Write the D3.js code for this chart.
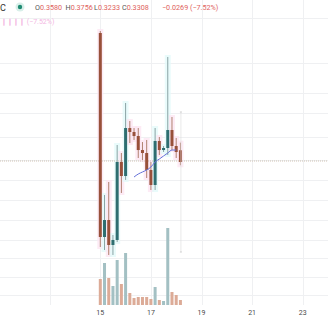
<!DOCTYPE html>
<html lang="en">
<head>
  <meta charset="UTF-8" />
  <title>Candles 4h</title>
  <script src="https://d3js.org/d3.v7.min.js"></script>
  <style>
    body {
      margin: 0;
      padding: 0;
      background: #fff;
      overflow: hidden;
      font-family: Roboto, "Noto Sans", Arial, sans-serif;
    }
  </style>
</head>
<body>
  <div id="chart"></div>
  <script>
    // 4h candles starting on the 15th
    const opens  = [0.6292, 0.1573, 0.1966, 0.1388, 0.1504, 0.3308, 0.2984, 0.4094, 0.4002, 0.3909,
                    0.3585, 0.3516, 0.3123, 0.2776, 0.3794, 0.3585, 0.3632, 0.4048, 0.3678, 0.3580];
    const highs  = [0.6338, 0.2545, 0.2845, 0.1619, 0.3701, 0.3516, 0.4673, 0.4256, 0.4094, 0.4094,
                    0.3770, 0.3817, 0.3308, 0.4094, 0.3886, 0.3678, 0.5737, 0.4349, 0.3863, 0.3756];
    const lows   = [0.1342, 0.1272, 0.1157, 0.1157, 0.1457, 0.2591, 0.2892, 0.3747, 0.3817, 0.3400,
                    0.3354, 0.2938, 0.2660, 0.2660, 0.3470, 0.3539, 0.3470, 0.3585, 0.3400, 0.3233];
    const closes = [0.1573, 0.1966, 0.1388, 0.1504, 0.3308, 0.2984, 0.4094, 0.4002, 0.3909, 0.3585,
                    0.3516, 0.3123, 0.2776, 0.3794, 0.3585, 0.3632, 0.4048, 0.3678, 0.3539, 0.3308];
    const volumes = [2.6, 4.2, 2.7, 1.9, 4.5, 2.1, 5.2, 1.2, 0.7, 0.8,
                     0.8, 0.8, 0.6, 1.8, 0.5, 0.4, 7.7, 1.3, 1.0, 0.5];
    const maLine = [null, null, null, null, null, null, null, null, 0.2961, 0.3030,
                    0.3077, 0.3123, 0.3192, 0.3308, 0.3377, 0.3447, 0.3516, 0.3585, 0.3585, null];
    const markerRange = [0.4465, 0.1226]; // thin grey marker on the last bar
    const gridPrices = [0.664, 0.560, 0.490, 0.444, 0.389, 0.335, 0.289, 0.243, 0.197, 0.150, 0.109, 0.065, 0.023];
    const gridDays = [13, 15, 17, 19, 21, 23];
    const tickDays = [15, 17, 19, 21, 23];
    const lastPrice = 0.3308;
    const headerVals = { O: "0.3580", H: "0.3756", L: "0.3233", C: "0.3308" };
    const change = "\u22120.0269 (\u22127.52%)";

    const width = 328, height = 320;
    const upColor = "#2e6e70", downColor = "#98503a";
    const upVol = "#a3c0c3", downVol = "#dcab97";

    const start = new Date(2021, 5, 15, 0);
    const dates = opens.map((_, i) => new Date(start.getTime() + i * 4 * 3600 * 1000));
    const candles = opens.map((o, i) => ({
      date: dates[i], open: o, high: highs[i], low: lows[i], close: closes[i],
      vol: volumes[i], ma: maLine[i], up: closes[i] >= o
    }));

    const x = d3.scaleTime()
      .domain([new Date(2021, 5, 11), new Date(2021, 5, 24)])
      .range([-0.9, 328]);
    const y = d3.scaleLinear().domain([0, 0.7]).range([305, 2.4]);
    const yVol = d3.scaleLinear().domain([0, 10]).range([305, 205]);
    const day = d => new Date(2021, 5, d);

    const svg = d3.select("#chart").append("svg")
      .attr("width", width)
      .attr("height", height)
      .style("background", "#fff");

    // grid
    svg.selectAll(".hgrid").data(gridPrices).enter().append("line")
      .attr("x1", 0).attr("x2", width)
      .attr("y1", d => Math.round(y(d)) + 0.5).attr("y2", d => Math.round(y(d)) + 0.5)
      .attr("stroke", "#eff0f2").attr("stroke-width", 1);
    svg.selectAll(".vgrid").data(gridDays).enter().append("line")
      .attr("x1", d => Math.round(x(day(d))) + 0.5).attr("x2", d => Math.round(x(day(d))) + 0.5)
      .attr("y1", 0).attr("y2", 305)
      .attr("stroke", "#eff0f2").attr("stroke-width", 1);

    // faint halos behind the bars
    svg.selectAll(".halo").data(candles).enter().append("rect")
      .attr("x", d => x(d.date) - 3)
      .attr("y", d => y(d.high) - 2)
      .attr("width", 6)
      .attr("height", d => y(d.low) - y(d.high) + 4)
      .attr("fill", d => d.up ? "#e3fafa" : "#fde6f2")
      .attr("opacity", 0.8);

    // volume
    svg.selectAll(".vol").data(candles).enter().append("rect")
      .attr("x", d => x(d.date) - 1.5)
      .attr("y", d => yVol(d.vol))
      .attr("width", 3)
      .attr("height", d => yVol(0) - yVol(d.vol))
      .attr("fill", d => d.up ? upVol : downVol);

    // last price line
    svg.append("line")
      .attr("x1", 0).attr("x2", width)
      .attr("y1", y(lastPrice) - 1).attr("y2", y(lastPrice) - 1)
      .attr("stroke", "#cfc2b4").attr("stroke-width", 1)
      .attr("stroke-dasharray", "1,1");

    // wicks
    svg.selectAll(".wick").data(candles).enter().append("line")
      .attr("x1", d => x(d.date)).attr("x2", d => x(d.date))
      .attr("y1", d => y(d.high)).attr("y2", d => y(d.low))
      .attr("stroke", d => d.up ? "#8aa3a4" : "#b08070")
      .attr("stroke-width", 1);

    // bodies
    svg.selectAll(".body").data(candles).enter().append("rect")
      .attr("x", d => x(d.date) - 1.5)
      .attr("y", d => y(Math.max(d.open, d.close)))
      .attr("width", 3)
      .attr("height", d => Math.max(1, Math.abs(y(d.open) - y(d.close))))
      .attr("fill", d => d.up ? upColor : downColor);

    // marker on last bar
    const last = candles[candles.length - 1];
    svg.append("line")
      .attr("x1", x(last.date) + 0.5).attr("x2", x(last.date) + 0.5)
      .attr("y1", y(markerRange[0])).attr("y2", y(markerRange[1]))
      .attr("stroke", "#dcdcdc").attr("stroke-width", 0.6);
    markerRange.forEach(p => {
      svg.append("line")
        .attr("x1", x(last.date) - 0.5).attr("x2", x(last.date) + 1.5)
        .attr("y1", y(p)).attr("y2", y(p))
        .attr("stroke", "#c4c4c4").attr("stroke-width", 0.8);
    });

    // moving average
    const line = d3.line()
      .defined(d => d.ma != null)
      .x(d => x(d.date))
      .y(d => y(d.ma))
      .curve(d3.curveMonotoneX);
    svg.append("path")
      .datum(candles)
      .attr("d", line)
      .attr("fill", "none")
      .attr("stroke", "#6470d8")
      .attr("stroke-width", 1);

    // time axis labels
    svg.selectAll(".tick").data(tickDays).enter().append("text")
      .attr("x", d => x(day(d)))
      .attr("y", 315)
      .attr("text-anchor", "middle")
      .attr("fill", "#4a4a4a")
      .style("font-size", "7px")
      .text(d => d);

    // header legend
    svg.append("text")
      .attr("x", 0).attr("y", 10.5)
      .attr("fill", "#333")
      .style("font-size", "9px")
      .text("C");
    svg.append("circle").attr("cx", 20).attr("cy", 7).attr("r", 4.5).attr("fill", "#d8efe9");
    svg.append("circle").attr("cx", 20).attr("cy", 7).attr("r", 2.2).attr("fill", "#1f8b72");

    const hdr = svg.append("text").attr("y", 10).style("font-size", "7.2px");
    [["O", 35], ["H", 65.5], ["L", 94], ["C", 122]].forEach(([k, px]) => {
      hdr.append("tspan").attr("x", px).attr("fill", "#555").text(k);
      hdr.append("tspan").attr("fill", "#e0625c").text(headerVals[k]);
    });
    hdr.append("tspan").attr("x", 162).attr("fill", "#e0625c").text(change);

    svg.append("text")
      .attr("x", 1).attr("y", 24)
      .attr("fill", "#f3b6e2")
      .style("font-size", "7px")
      .text("\u2759\u2759\u2759\u2759 (\u22127.52%)");
  </script>
</body>
</html>
